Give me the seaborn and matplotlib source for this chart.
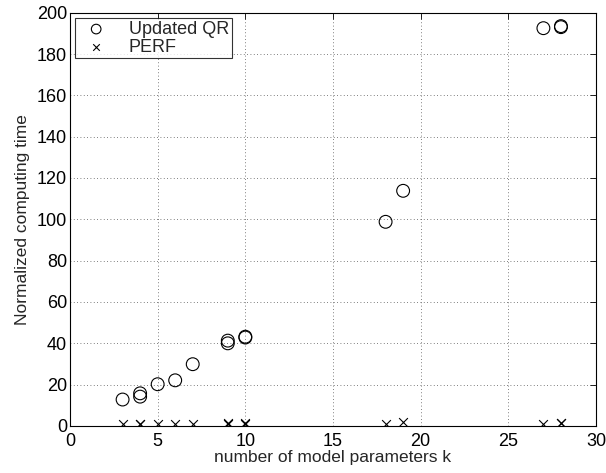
import pandas as pd
import numpy as np
import matplotlib
matplotlib.use('Agg')
import matplotlib.pyplot as plt
import seaborn as sns

# Datos
k_qr = [3, 4, 4, 5, 6, 7, 9, 9, 10, 10, 18, 19, 27, 28, 28]
t_qr = [12.8, 15.8, 14.2, 20.2, 22.1, 29.9, 41.3, 40.0, 42.8, 43.2, 98.8, 113.8, 192.5, 193.0, 193.5]
k_perf = [3, 4, 4, 5, 6, 7, 9, 9, 10, 10, 18, 19, 27, 28, 28]
t_perf = [1.0, 1.0, 1.2, 1.0, 1.0, 1.1, 1.2, 1.4, 1.2, 1.4, 1.0, 2.0, 1.0, 1.3, 1.5]

df = pd.concat([
    pd.DataFrame({'k': k_qr, 't': t_qr, 'metodo': 'Updated QR'}),
    pd.DataFrame({'k': k_perf, 't': t_perf, 'metodo': 'PERF'}),
])

sns.set_theme(style="white")
plt.rcParams['font.family'] = ['Liberation Sans', 'DejaVu Sans']

fig = plt.figure(figsize=(6.06, 4.73), dpi=100)
ax = fig.add_axes([0.1155, 0.0994, 0.868, 0.8738])

sns.scatterplot(data=df[df.metodo == 'Updated QR'], x='k', y='t', marker='o',
                s=85, facecolor='none', edgecolor='black', linewidth=0.8,
                label='Updated QR', ax=ax)
sns.scatterplot(data=df[df.metodo == 'PERF'], x='k', y='t', marker='x',
                s=40, color='black', linewidth=0.8, label='PERF', ax=ax)

ax.set_xlim(0, 30)
ax.set_ylim(0, 200)
ax.set_xticks(np.arange(0, 31, 5))
ax.set_yticks(np.arange(0, 201, 20))
ax.grid(True, linestyle=(0, (1, 3)), color='#555555', linewidth=0.6)
ax.tick_params(direction='in', top=True, right=True, length=4, width=0.6,
               labelsize=13, colors='black', pad=2)
ax.tick_params(axis='x', pad=5)
for sp in ax.spines.values():
    sp.set_color('black')
    sp.set_linewidth(0.8)

ax.set_xlabel('number of model parameters k', fontsize=12.5, labelpad=0)
ax.set_ylabel('Normalized computing time', fontsize=12.5, labelpad=5)

leg = ax.legend(loc='upper left', fontsize=13, frameon=True, fancybox=False,
                edgecolor='black', borderaxespad=0.3, handletextpad=0.8,
                borderpad=0.15, labelspacing=0.05, markerscale=0.75,
                handlelength=2.0)
leg.get_frame().set_linewidth(0.8)

plt.savefig('out.png', dpi=100)
plt.close()
